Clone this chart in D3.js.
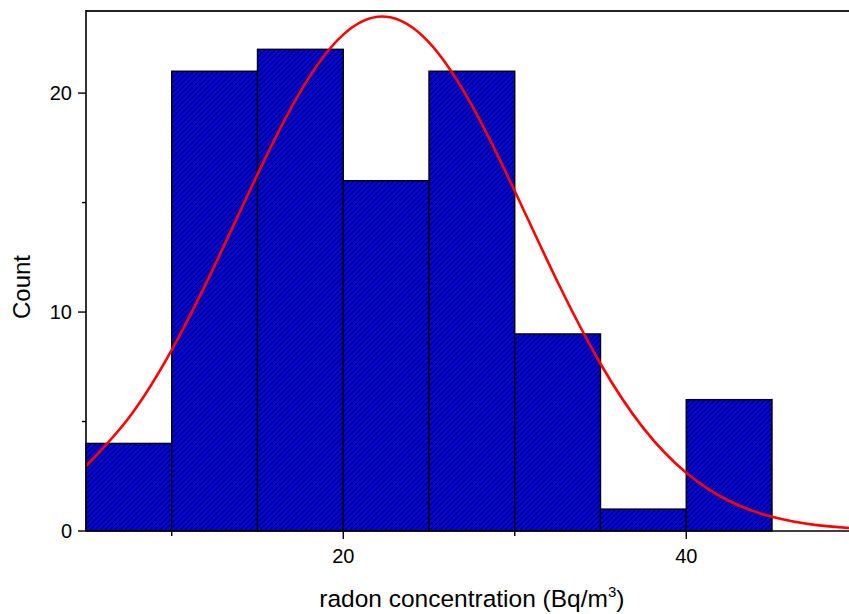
<!DOCTYPE html>
<html>
<head>
<meta charset="utf-8">
<script src="https://cdn.jsdelivr.net/npm/d3@7"></script>
<style>
  html, body { margin: 0; padding: 0; background: #fff; }
  svg { display: block; }
  text { font-family: "Liberation Sans", Arial, sans-serif; fill: #000; }
</style>
</head>
<body>
<svg id="chart" width="849" height="614"></svg>
<script>
// Histogram bins (bin start) and counts
const binStarts = [5, 10, 15, 20, 25, 30, 35, 40];
const binWidth = 5;
const counts = [4, 21, 22, 16, 21, 9, 1, 6];

// Fitted normal curve
const curveX = [5, 7.5, 10, 12.5, 15, 17.5, 20, 22.5, 25, 27.5, 30, 32.5, 35, 37.5, 40, 42.5, 45, 47.5, 50];
const curveY = [2.97, 5.17, 8.27, 12.12, 16.29, 20.07, 22.67, 23.49, 22.32, 19.44, 15.53, 11.37, 7.64, 4.70, 2.66, 1.37, 0.65, 0.28, 0.11];

// Axis ticks
const xMajorTicks = [20, 40];
const xMinorTicks = [10, 30];
const yMajorTicks = [0, 10, 20];
const yMinorTicks = [5, 15];

const xTitle = "radon concentration (Bq/m";
const yTitle = "Count";

const svg = d3.select("#chart");
const pLeft = 86, pRight = 857.75, pTop = 11, pBottom = 531;

const x = d3.scaleLinear().domain([5, 50]).range([pLeft, pRight]);
const y = d3.scaleLinear().domain([0, 23.75]).range([pBottom, pTop]);

// hatch pattern
const defs = svg.append("defs");
const pat = defs.append("pattern")
  .attr("id", "hatch")
  .attr("patternUnits", "userSpaceOnUse")
  .attr("width", 5).attr("height", 5);
pat.append("rect").attr("width", 5).attr("height", 5).attr("fill", "#0000ff");
pat.append("path")
  .attr("d", "M-1,1 l2,-2 M0,5 l5,-5 M4,6 l2,-2")
  .attr("stroke", "#000020").attr("stroke-width", 1.05);

defs.append("clipPath").attr("id", "clip")
  .append("rect").attr("x", pLeft).attr("y", pTop - 2)
  .attr("width", pRight - pLeft).attr("height", pBottom - pTop + 2);

const bins = binStarts.map((s, i) => ({ x0: s, x1: s + binWidth, c: counts[i] }));

svg.append("g").selectAll("rect").data(bins).join("rect")
  .attr("x", d => x(d.x0))
  .attr("y", d => y(d.c))
  .attr("width", d => x(d.x1) - x(d.x0))
  .attr("height", d => y(0) - y(d.c))
  .attr("fill", "url(#hatch)")
  .attr("stroke", "#000")
  .attr("stroke-width", 1.4);

// fitted curve
const line = d3.line()
  .x((d, i) => x(curveX[i]))
  .y(d => y(d))
  .curve(d3.curveNatural);
svg.append("path")
  .datum(curveY)
  .attr("clip-path", "url(#clip)")
  .attr("d", line)
  .attr("fill", "none")
  .attr("stroke", "#ff0000")
  .attr("stroke-width", 2.6);

// Frame lines
svg.append("line").attr("x1", pLeft).attr("x2", 849).attr("y1", pTop).attr("y2", pTop)
  .attr("stroke", "#222").attr("stroke-width", 2);
svg.append("line").attr("x1", pLeft).attr("x2", pLeft).attr("y1", pTop - 1).attr("y2", pBottom)
  .attr("stroke", "#000").attr("stroke-width", 1.6);

// Bottom axis
const xAxis = svg.append("g").attr("transform", `translate(0,${pBottom})`);
xAxis.append("line").attr("x1", pLeft).attr("x2", 849).attr("y1", 0).attr("y2", 0)
  .attr("stroke", "#000").attr("stroke-width", 1.6);
xAxis.selectAll(".maj").data(xMajorTicks).join("line")
  .attr("x1", d => x(d)).attr("x2", d => x(d)).attr("y1", 0).attr("y2", 8)
  .attr("stroke", "#000").attr("stroke-width", 1.4);
xAxis.selectAll(".min").data(xMinorTicks).join("line")
  .attr("x1", d => x(d)).attr("x2", d => x(d)).attr("y1", 0).attr("y2", 5)
  .attr("stroke", "#000").attr("stroke-width", 1.4);
xAxis.selectAll("text").data(xMajorTicks).join("text")
  .attr("x", d => x(d)).attr("y", 32)
  .attr("text-anchor", "middle")
  .attr("font-size", 20)
  .text(d => d);

// Left axis
const yAxis = svg.append("g").attr("transform", `translate(${pLeft},0)`);
yAxis.selectAll(".maj").data(yMajorTicks).join("line")
  .attr("x1", -8).attr("x2", 0).attr("y1", d => y(d)).attr("y2", d => y(d))
  .attr("stroke", "#000").attr("stroke-width", 1.4);
yAxis.selectAll(".min").data(yMinorTicks).join("line")
  .attr("x1", -4).attr("x2", 0).attr("y1", d => y(d)).attr("y2", d => y(d))
  .attr("stroke", "#000").attr("stroke-width", 1.4);
yAxis.selectAll("text").data(yMajorTicks).join("text")
  .attr("x", -14).attr("y", d => y(d))
  .attr("dy", "0.36em")
  .attr("text-anchor", "end")
  .attr("font-size", 20)
  .text(d => d);

// Titles
const xt = svg.append("text")
  .attr("x", (pLeft + pRight) / 2).attr("y", 607)
  .attr("text-anchor", "middle")
  .attr("font-size", 24.5);
xt.append("tspan").text(xTitle);
xt.append("tspan").attr("font-size", 15).attr("dy", -10).text("3");
xt.append("tspan").attr("dy", 10).text(")");

svg.append("text")
  .attr("transform", `translate(30,287) rotate(-90)`)
  .attr("text-anchor", "middle")
  .attr("font-size", 24)
  .text(yTitle);
</script>
</body>
</html>
